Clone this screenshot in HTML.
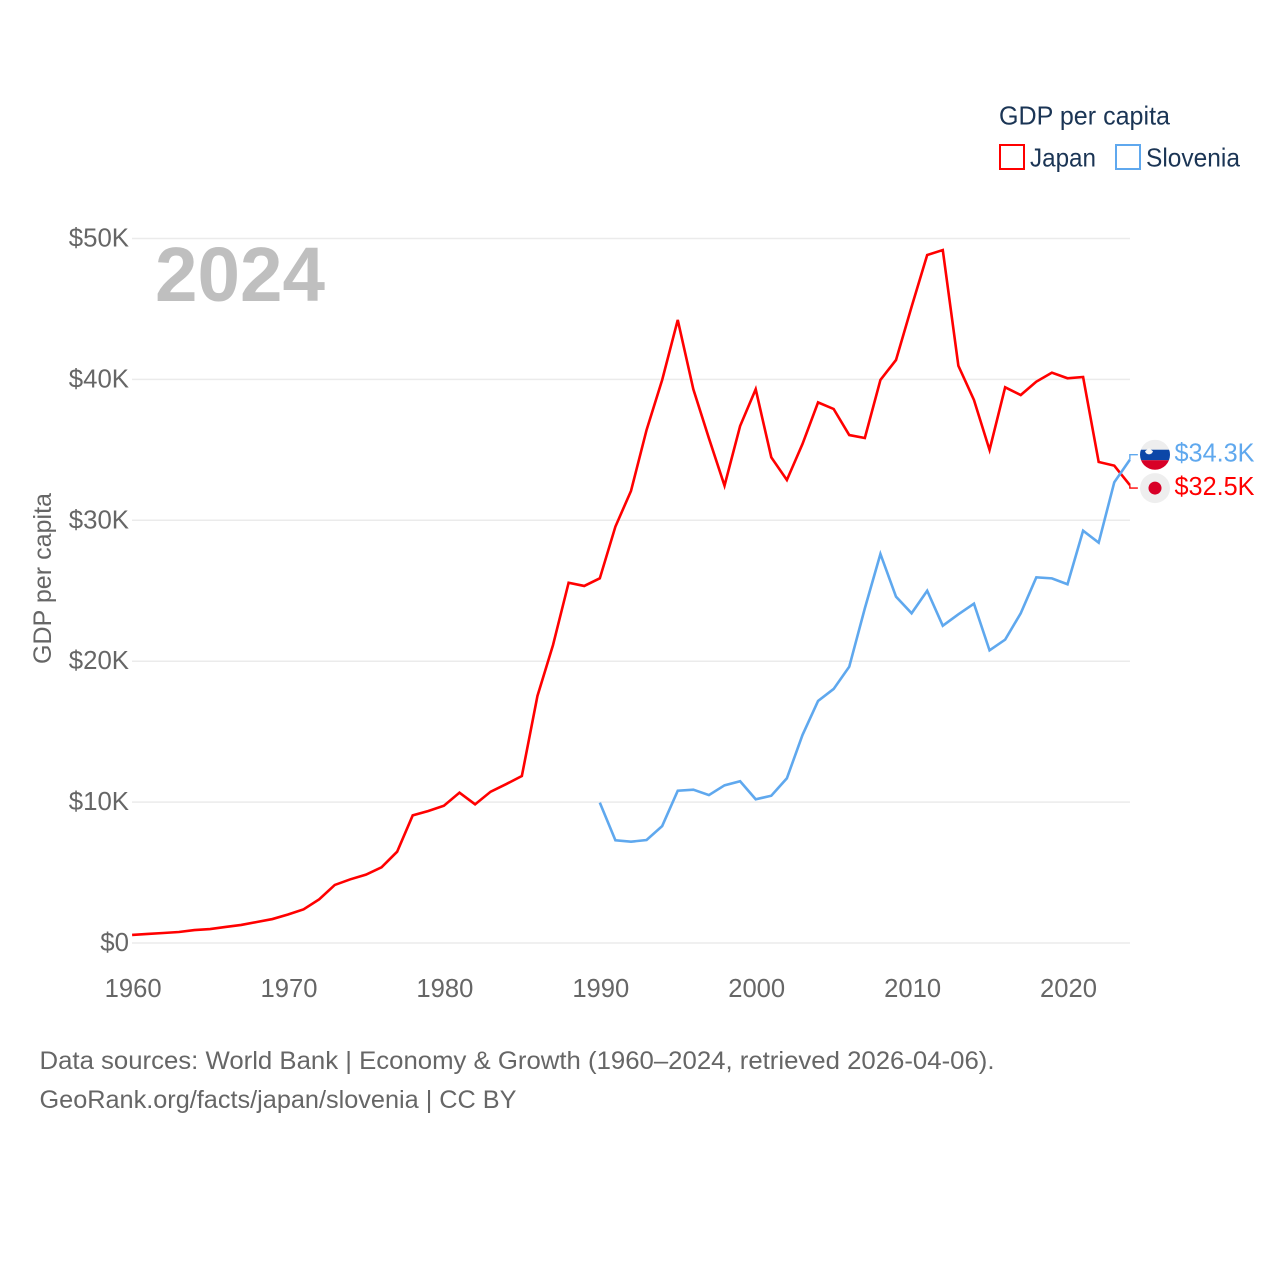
<!DOCTYPE html>
<html lang="en">
<head>
<meta charset="utf-8">
<title>GDP per capita: Japan and Slovenia</title>
<style>
html,body{margin:0;padding:0;background:#fff;}
svg{display:block;font-family:"Liberation Sans",sans-serif;}
</style>
</head>
<body>
<svg id="chart" width="1280" height="1280" viewBox="0 0 1280 1280" xmlns="http://www.w3.org/2000/svg">
  <rect width="1280" height="1280" fill="#ffffff"/>
  <defs>
    <clipPath id="clip-si"><circle cx="0" cy="0" r="15"/></clipPath>
  </defs>
  <g id="grid"></g>
  <g id="yticks"></g>
  <g id="xticks"></g>
  <text x="155" y="301" font-size="77" font-weight="700" fill="#bfbfbf" textLength="170" lengthAdjust="spacingAndGlyphs">2024</text>
  <g id="series"></g>
  <text transform="translate(51,664) rotate(-90)" font-size="25" fill="#666666" textLength="171" lengthAdjust="spacingAndGlyphs">GDP per capita</text>
  <g>
    <text x="999" y="124.500" font-size="26" fill="#1b3555" textLength="171" lengthAdjust="spacingAndGlyphs">GDP per capita</text>
    <rect x="1000" y="145" width="24" height="24" fill="none" stroke="#ff0000" stroke-width="2"/>
    <text x="1030" y="166.500" font-size="26" fill="#1b3555" textLength="66" lengthAdjust="spacingAndGlyphs">Japan</text>
    <rect x="1116" y="145" width="24" height="24" fill="none" stroke="#5fa8ee" stroke-width="2"/>
    <text x="1146" y="166.500" font-size="26" fill="#1b3555" textLength="94" lengthAdjust="spacingAndGlyphs">Slovenia</text>
  </g>
  <g id="flag-si">
    <g clip-path="url(#clip-si)">
      <rect x="-15" y="-15" width="30" height="10" fill="#eeeeee"/>
      <rect x="-15" y="-5" width="30" height="10.5" fill="#0c47a8"/>
      <rect x="-15" y="5.5" width="30" height="10" fill="#d80027"/>
      <path d="M-6,-7 L-4,-5 L-2,-3.500 L-3,-1.500 L-5,-0.500 L-7,-0.500 L-9,-1.500 L-10,-3.500 L-8,-5 Z" fill="#f6f6f6"/>
    </g>
  </g>
  <g id="flag-jp">
    <circle r="15" fill="#eeeeee"/>
    <circle r="6.500" fill="#d80027"/>
  </g>
  <text id="label-si" font-size="26" fill="#5fa8ee" textLength="80" lengthAdjust="spacingAndGlyphs"></text>
  <text id="label-jp" font-size="26" fill="#ff0000" textLength="80" lengthAdjust="spacingAndGlyphs"></text>
  <g>
    <text x="39.500" y="1069" font-size="25" fill="#666666" textLength="955" lengthAdjust="spacingAndGlyphs">Data sources: World Bank | Economy &amp; Growth (1960–2024, retrieved 2026-04-06).</text>
    <text x="39.500" y="1108" font-size="25" fill="#666666" textLength="477" lengthAdjust="spacingAndGlyphs">GeoRank.org/facts/japan/slovenia | CC BY</text>
  </g>
</svg>
<script>
const yearTicks = [1960, 1970, 1980, 1990, 2000, 2010, 2020];
const valueTicks = [0, 10, 20, 30, 40, 50];
const japanStartYear = 1960;
const sloveniaStartYear = 1990;
const japanValues = [
  0.57, 0.64, 0.71, 0.78, 0.92, 0.99, 1.14, 1.28, 1.49, 1.70,
  2.02, 2.39, 3.10, 4.12, 4.52, 4.85, 5.37, 6.48, 9.06, 9.37,
  9.74, 10.67, 9.84, 10.74, 11.28, 11.85, 17.53, 21.15, 25.57, 25.34,
  25.88, 29.55, 32.08, 36.41, 39.96, 44.22, 39.30, 35.82, 32.46, 36.69,
  39.30, 34.47, 32.86, 35.41, 38.37, 37.90, 36.05, 35.84, 39.96, 41.38,
  45.16, 48.83, 49.18, 40.97, 38.54, 34.99, 39.44, 38.89, 39.84, 40.48,
  40.08, 40.17, 34.14, 33.88, 32.5
];
const sloveniaValues = [
  9.96, 7.29, 7.19, 7.31, 8.30, 10.81, 10.88, 10.50, 11.19, 11.48,
  10.20, 10.45, 11.69, 14.76, 17.18, 18.03, 19.61, 23.75, 27.61, 24.58,
  23.40, 25.00, 22.52, 23.33, 24.08, 20.77, 21.53, 23.40, 25.95, 25.88,
  25.46, 29.26, 28.41, 32.70, 34.3
];

const NS = 'http://www.w3.org/2000/svg';
function xScale(year) { return 132.1 + (year - 1960) * 15.59; }
function yScale(value) { return 943 - value * 14.09; }
function make(tag, attrs, parent) {
  const el = document.createElementNS(NS, tag);
  for (const k in attrs) el.setAttribute(k, attrs[k]);
  parent.appendChild(el);
  return el;
}

const grid = document.getElementById('grid');
const yticks = document.getElementById('yticks');
const xticks = document.getElementById('xticks');
const series = document.getElementById('series');

valueTicks.forEach(function (v) {
  const line = make('line', { x1: 132, x2: 1130, y1: yScale(v), y2: yScale(v), stroke: '#ebebeb', 'stroke-width': 1.5 }, grid);
  
  
  const t = make('text', { x: 129, y: yScale(v) + 8, 'text-anchor': 'end', 'font-size': 25.8, fill: '#666666' }, yticks);
  t.textContent = v === 0 ? '$0' : '$' + v + 'K';
  
  
});

yearTicks.forEach(function (yr) {
  const t = make('text', { x: xScale(yr) + 1, y: 997, 'text-anchor': 'middle', 'font-size': 25.6, fill: '#666666' }, xticks);
  t.textContent = String(yr);
  
  
});

function linePoints(values, startYear) {
  return values.map(function (v, i) {
    return xScale(startYear + i).toFixed(2) + ',' + yScale(v).toFixed(2);
  }).join(' ');
}

const japanLine = make('polyline', { points: linePoints(japanValues, japanStartYear), fill: 'none', stroke: '#ff0000', 'stroke-width': 2.6, 'stroke-linejoin': 'miter' }, series);



const sloveniaLine = make('polyline', { points: linePoints(sloveniaValues, sloveniaStartYear), fill: 'none', stroke: '#5fa8ee', 'stroke-width': 2.6, 'stroke-linejoin': 'miter' }, series);



function endLabel(values, startYear, offset, color, flagId, labelId) {
  const last = values[values.length - 1];
  const endX = xScale(startYear + values.length - 1);
  const endY = yScale(last);
  const labelY = endY + offset;
  const path = make('polyline', {
    points: endX + ',' + endY + ' ' + endX + ',' + labelY + ' ' + (endX + 8) + ',' + labelY,
    fill: 'none', stroke: color, 'stroke-width': 1.4
  }, series);
  
  
  document.getElementById(flagId).setAttribute('transform', 'translate(1155,' + labelY + ')');
  const label = document.getElementById(labelId);
  label.setAttribute('x', 1174.5);
  label.setAttribute('y', labelY + 7);
  label.textContent = '$' + last.toFixed(1) + 'K';
}

endLabel(sloveniaValues, sloveniaStartYear, -5, '#5fa8ee', 'flag-si', 'label-si');
endLabel(japanValues, japanStartYear, 3, '#ff0000', 'flag-jp', 'label-jp');
</script>
</body>
</html>
